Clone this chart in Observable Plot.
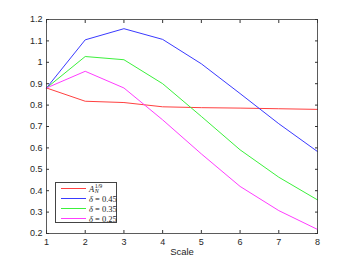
<!DOCTYPE html>
<html>
<head>
<meta charset="utf-8">
<script src="https://cdn.jsdelivr.net/npm/d3@7"></script>
<script src="https://cdn.jsdelivr.net/npm/@observablehq/plot@0.6"></script>
<style>
  html, body { margin: 0; padding: 0; background: #fff; }
  #wrap { position: relative; width: 350px; height: 263px; }
  #legend {
    position: absolute; left: 55px; top: 182px; width: 60px; height: 39px;
    border: 1px solid #444; background: #fff;
    font-family: "Liberation Serif", "DejaVu Serif", serif; font-size: 8.5px; color: #222;
  }
  .row { position: absolute; left: 0; width: 60px; height: 10px; display: flex; align-items: center; white-space: nowrap; }
  .sw { display: inline-block; flex: none; width: 25px; height: 1.3px; margin-left: 5px; margin-right: 3px; }
  .lab { white-space: nowrap; display: inline-flex; align-items: center; }
  .math { font-style: italic; white-space: nowrap; }
  .ss { display: inline-flex; flex-direction: column; font-size: 6px; line-height: 5px; font-style: normal; margin-left: 0.5px; }
</style>
</head>
<body>
<div id="wrap"></div>
<script>
const scales = [1, 2, 3, 4, 5, 6, 7, 8];
const seriesNames = ["A", "d45", "d35", "d25"];
const seriesColors = ["#ff4040", "#3a3aff", "#3cf03c", "#ff3cff"];
const valuesA   = [0.88, 0.818, 0.812, 0.792, 0.788, 0.786, 0.783, 0.780];
const values045 = [0.88, 1.105, 1.157, 1.107, 0.993, 0.854, 0.713, 0.583];
const values035 = [0.88, 1.027, 1.012, 0.900, 0.747, 0.591, 0.463, 0.357];
const values025 = [0.88, 0.958, 0.880, 0.731, 0.572, 0.420, 0.307, 0.219];
const xTicks = [1, 2, 3, 4, 5, 6, 7, 8];
const yTicks = [0.2, 0.3, 0.4, 0.5, 0.6, 0.7, 0.8, 0.9, 1.0, 1.1, 1.2];

const allValues = [valuesA, values045, values035, values025];
const data = [];
allValues.forEach((vals, i) => vals.forEach((v, j) => data.push({series: seriesNames[i], x: scales[j], y: v})));

const fmt = d => String(+d.toFixed(1));
const blank = () => "";

const chart = Plot.plot({
  width: 350,
  height: 263,
  marginLeft: 46,
  marginRight: 33,
  marginTop: 19,
  marginBottom: 30,
  style: {fontFamily: "'Liberation Sans', Arial, sans-serif", fontSize: "9px", color: "#262626", background: "#fff"},
  x: {domain: [1, 8]},
  y: {domain: [0.2, 1.2]},
  color: {domain: seriesNames, range: seriesColors},
  marks: [
    Plot.line(data, {x: "x", y: "y", z: "series", stroke: "series", strokeWidth: 1}),
    Plot.frame({stroke: "#333", strokeWidth: 0.8}),
    Plot.axisX(xTicks, {anchor: "bottom", tickSize: -3, tickPadding: 8, tickFormat: fmt, label: null, stroke: "#333"}),
    Plot.axisX(xTicks, {anchor: "top", tickSize: -3, tickFormat: blank, label: null, stroke: "#333"}),
    Plot.axisY(yTicks, {anchor: "left", tickSize: -3, tickPadding: 7, tickFormat: fmt, label: null, stroke: "#333"}),
    Plot.axisY(yTicks, {anchor: "right", tickSize: -3, tickFormat: blank, label: null, stroke: "#333"}),
    Plot.text(["Scale"], {x: 4.5, frameAnchor: "bottom", dy: 21, text: d => d, fontSize: 9.5, fill: "#262626"})
  ]
});

const wrap = document.getElementById("wrap");
wrap.appendChild(chart);

const legendLabels = [
  '<span class="math">A</span><span class="ss"><span>1/9</span><span class="math">N</span></span>',
  '<span class="math">δ</span>&nbsp;=&nbsp;0.45',
  '<span class="math">δ</span>&nbsp;=&nbsp;0.35',
  '<span class="math">δ</span>&nbsp;=&nbsp;0.25'
];
const legend = document.createElement("div");
legend.id = "legend";
legendLabels.forEach((lab, i) => {
  const row = document.createElement("div");
  row.className = "row";
  row.style.top = (0.5 + i * 10) + "px";
  row.innerHTML = `<span class="sw" style="background:${seriesColors[i]}"></span><span class="lab">${lab}</span>`;
  legend.appendChild(row);
});
wrap.appendChild(legend);
</script>
</body>
</html>
